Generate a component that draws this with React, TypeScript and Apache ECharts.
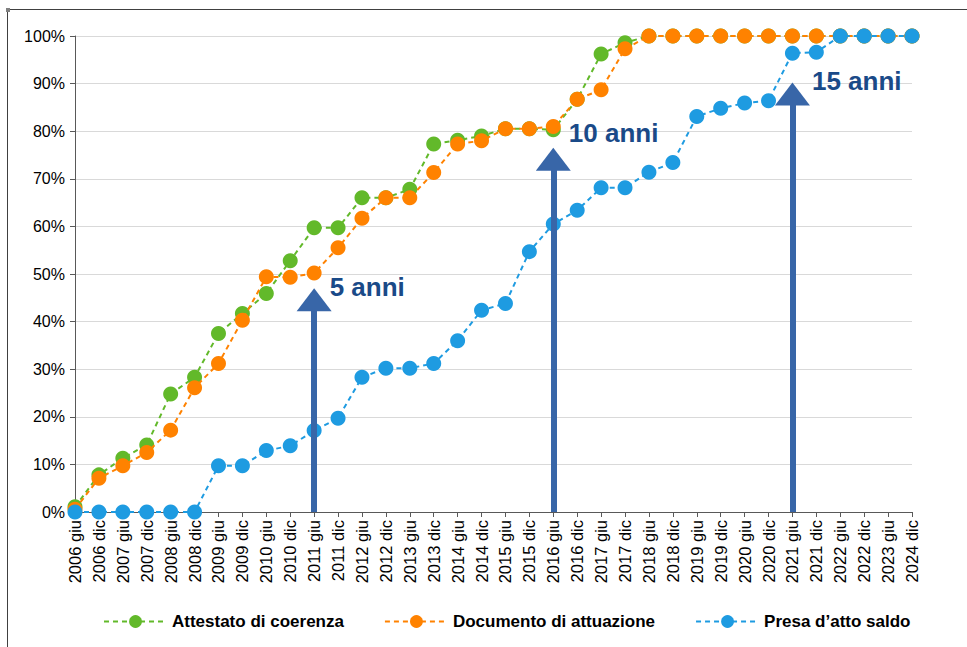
import React, { useEffect, useRef } from "react";
import * as echarts from "echarts";

const categories = [
  "2006 giu", "2006 dic", "2007 giu", "2007 dic", "2008 giu", "2008 dic",
  "2009 giu", "2009 dic", "2010 giu", "2010 dic", "2011 giu", "2011 dic",
  "2012 giu", "2012 dic", "2013 giu", "2013 dic", "2014 giu", "2014 dic",
  "2015 giu", "2015 dic", "2016 giu", "2016 dic", "2017 giu", "2017 dic",
  "2018 giu", "2018 dic", "2019 giu", "2019 dic", "2020 giu", "2020 dic",
  "2021 giu", "2021 dic", "2022 giu", "2022 dic", "2023 giu", "2024 dic",
];

const attestato = [
  1.1, 7.8, 11.3, 14.1, 24.8, 28.3, 37.5, 41.7, 45.9, 52.8, 59.7, 59.7,
  66.0, 66.0, 67.8, 77.3, 78.1, 79.0, 80.5, 80.5, 80.3, 86.7, 96.2, 98.6,
  100, 100, 100, 100, 100, 100, 100, 100, 100, 100, 100, 100,
];

const documento = [
  0.6, 7.1, 9.7, 12.5, 17.2, 26.1, 31.2, 40.3, 49.4, 49.3, 50.2, 55.5,
  61.7, 66.0, 66.0, 71.3, 77.3, 78.0, 80.5, 80.5, 81.0, 86.7, 88.7, 97.3,
  100, 100, 100, 100, 100, 100, 100, 100, 100, 100, 100, 100,
];

const presa = [
  0, 0, 0, 0, 0, 0, 9.7, 9.7, 12.9, 13.9, 17.1, 19.7,
  28.3, 30.2, 30.2, 31.2, 36.0, 42.4, 43.8, 54.7, 60.5, 63.4, 68.1, 68.1,
  71.4, 73.4, 83.1, 84.8, 85.9, 86.4, 96.4, 96.6, 100, 100, 100, 100,
];

const seriesNames = ["Attestato di coerenza", "Documento di attuazione", "Presa d\u2019atto saldo"];
const seriesColors = ["#62B92A", "#FF8200", "#1E9BE1"];

const arrowCategories = ["2011 giu", "2016 giu", "2021 giu"];
const arrowTops = [44.6, 74.1, 87.8];
const arrowLabels = ["5 anni", "10 anni", "15 anni"];
const arrowLabelValues = [47.3, 79.6, 90.6];

const FONT = "'Liberation Sans', Arial, sans-serif";

export default function App() {
  const ref = useRef<HTMLDivElement>(null);

  useEffect(() => {
    if (!ref.current) return;
    const chart = echarts.init(ref.current, undefined, { renderer: "svg" });

    const dataSets = [attestato, documento, presa];
    const series: any[] = dataSets.map((d, i) => ({
      name: seriesNames[i],
      type: "line",
      data: d,
      symbol: "circle",
      symbolSize: 15,
      showSymbol: true,
      itemStyle: { color: seriesColors[i] },
      lineStyle: { color: seriesColors[i], width: 2, type: [5, 4] },
      z: 2 + i,
    }));

    series.push({
      name: "frecce",
      type: "line",
      data: [],
      z: 10,
      markLine: {
        silent: true,
        symbol: ["none", "triangle"],
        symbolSize: [35, 23],
        lineStyle: { color: "#3866A8", width: 6, type: "solid" },
        itemStyle: { color: "#3866A8" },
        label: { show: false },
        emphasis: { disabled: true },
        data: arrowCategories.map((c, i) => [
          { coord: [c, 0] },
          { coord: [c, arrowTops[i]] },
        ]),
      },
      markPoint: {
        silent: true,
        symbol: "circle",
        symbolSize: 1,
        itemStyle: { color: "rgba(0,0,0,0)" },
        label: {
          show: true,
          position: "right",
          distance: 15,
          color: "#1A4A88",
          fontSize: 26,
          fontWeight: "bold",
          fontFamily: FONT,
        },
        data: arrowCategories.map((c, i) => ({
          coord: [c, arrowLabelValues[i]],
          value: arrowLabels[i],
          label: { formatter: arrowLabels[i], distance: i === 2 ? 19 : 15 },
        })),
      },
    });

    chart.setOption({
      animation: false,
      backgroundColor: "#ffffff",
      textStyle: { fontFamily: FONT },
      grid: { left: 75, right: 55, top: 36, bottom: 135, containLabel: false },
      legend: {
        data: seriesNames,
        left: 98,
        top: 608,
        itemWidth: 63,
        itemHeight: 16,
        itemGap: 40,
        textStyle: { fontSize: 17, fontWeight: "bold", color: "#000", fontFamily: FONT },
      },
      xAxis: {
        type: "category",
        data: categories,
        boundaryGap: false,
        axisLine: { lineStyle: { color: "#595959", width: 1 } },
        axisTick: { show: true, interval: 0, length: 5, lineStyle: { color: "#595959" } },
        axisLabel: {
          interval: 0,
          rotate: 90,
          margin: 8,
          fontSize: 16.5,
          color: "#000",
          fontFamily: FONT,
        },
        splitLine: { show: false },
      },
      yAxis: {
        type: "value",
        min: 0,
        max: 100,
        interval: 10,
        axisLine: { show: true, lineStyle: { color: "#595959", width: 1 } },
        axisTick: { show: true, length: 5, lineStyle: { color: "#595959" } },
        axisLabel: {
          formatter: "{value}%",
          fontSize: 16,
          margin: 10,
          color: "#000",
          fontFamily: FONT,
        },
        splitLine: { show: true, lineStyle: { color: "#D9D9D9", width: 1 } },
      },
      graphic: [
        {
          type: "line",
          silent: true,
          shape: { x1: 7, y1: 9.5, x2: 967, y2: 9.5 },
          style: { stroke: "#404040", lineWidth: 1 },
        },
        {
          type: "line",
          silent: true,
          shape: { x1: 7.5, y1: 9, x2: 7.5, y2: 647 },
          style: { stroke: "#404040", lineWidth: 1 },
        },
        {
          type: "rect",
          silent: true,
          shape: { x: 6, y: 8, width: 4, height: 4 },
          style: { fill: "#808080" },
        },
      ],
      series,
    });

    return () => chart.dispose();
  }, []);

  return (
    <div
      ref={ref}
      style={{ position: "absolute", left: 0, top: 0, width: 967, height: 647, background: "#fff" }}
    />
  );
}
